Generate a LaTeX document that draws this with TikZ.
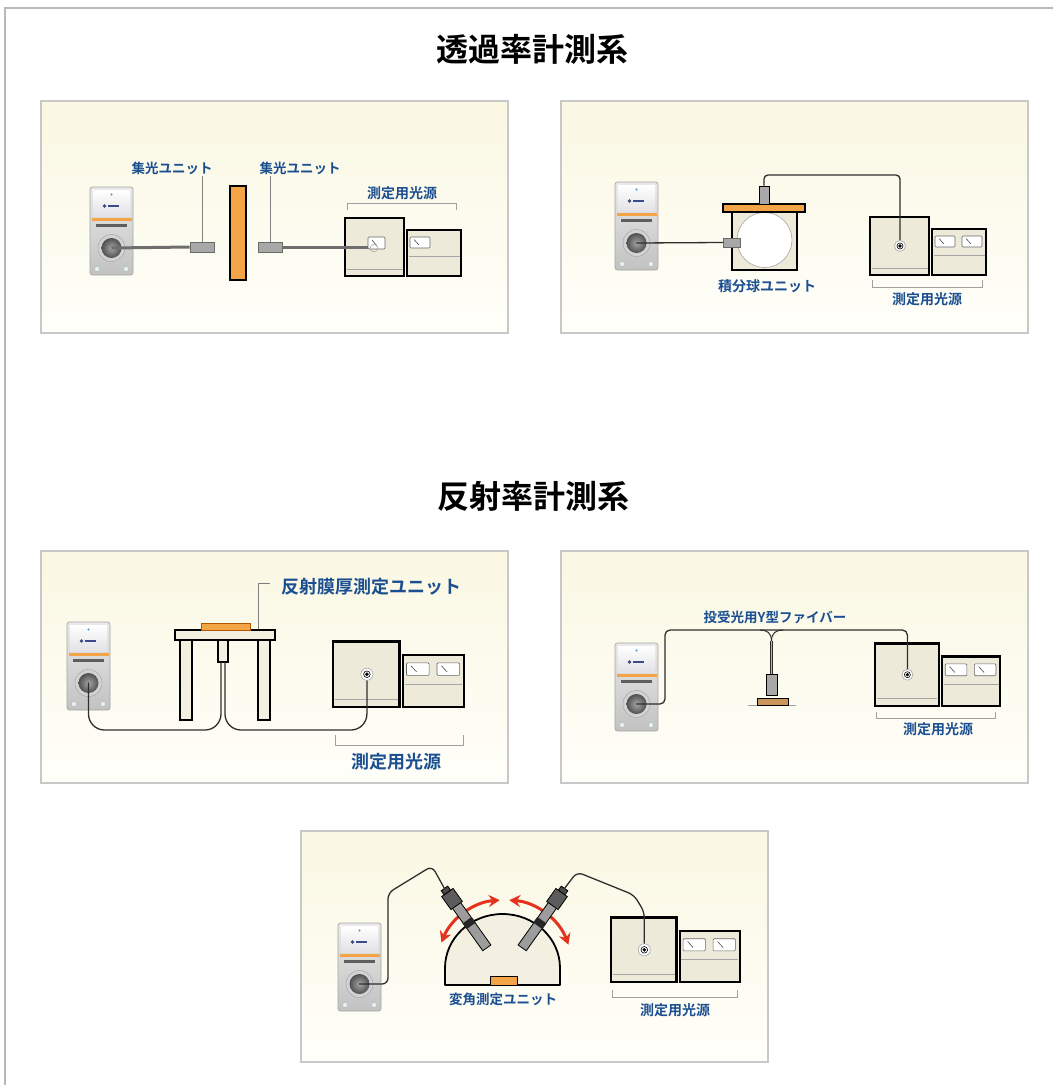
\documentclass[tikz,border=0pt]{standalone}
\usepackage{fontspec}
\usetikzlibrary{arrows.meta}
\newfontfamily\jp{Noto Sans CJK JP}[BoldFont={Noto Sans CJK JP Bold}]

\definecolor{panelTop}{HTML}{FAF7E2}
\definecolor{panelBot}{HTML}{FFFFFA}
\definecolor{panelEdge}{HTML}{C8C8C8}
\definecolor{frameGray}{HTML}{B8B8B8}
\definecolor{labBlue}{HTML}{1B4F91}
\definecolor{cream}{HTML}{EEEADA}
\definecolor{tableCream}{HTML}{F3F0E2}
\definecolor{plateOrange}{HTML}{F3A446}
\definecolor{sampleBrown}{HTML}{C9975A}
\definecolor{arcRed}{HTML}{E4321E}
\definecolor{fiberGray}{HTML}{6E6E6E}
\definecolor{fiberDark}{HTML}{2E2E2E}
\definecolor{unitGray}{HTML}{A8A8A8}
\definecolor{unitEdge}{HTML}{6A6A6A}
\definecolor{bracketGray}{HTML}{A0A0A0}
\definecolor{leaderGray}{HTML}{808080}
\definecolor{detTop}{HTML}{E9E9E9}
\definecolor{detBot}{HTML}{C2C2C2}
\definecolor{detEdge}{HTML}{A5A5A5}
\definecolor{detPanel}{HTML}{E2E2E6}
\definecolor{detDot}{HTML}{4A90D0}
\definecolor{navyMark}{HTML}{3A4A8A}
\definecolor{slotGray}{HTML}{5E5E5E}
\definecolor{ringGray}{HTML}{D2D2D2}
\definecolor{lensIn}{HTML}{A6A6A6}
\definecolor{lensOut}{HTML}{505050}
\definecolor{footFill}{HTML}{E2F2EE}
\definecolor{probeGray}{HTML}{9C9C9C}
\definecolor{headGray}{HTML}{5C5C5C}

\tikzset{
  panel/.style={draw=panelEdge, line width=1.4pt, top color=panelTop, bottom color=panelBot},
  lbl/.style={text=labBlue, inner sep=1pt, font=\jp\bfseries\fontsize{14}{16}\selectfont},
  lblsmall/.style={lbl, font=\jp\bfseries\fontsize{13.5}{15}\selectfont},
  lblbig/.style={lbl, font=\jp\bfseries\fontsize{18}{20}\selectfont},
  ttl/.style={text=black, inner sep=1pt, font=\jp\bfseries\fontsize{32}{34}\selectfont},
  collector/.style={draw=unitEdge, fill=unitGray, line width=0.8pt, inner sep=0pt,
    minimum width=24pt, minimum height=10pt},
  plate/.style={draw=black, fill=plateOrange, line width=1.3pt, inner sep=0pt},
  cbox/.style={draw=black, fill=cream, line width=2.4pt},
  tbl/.style={draw=black, fill=tableCream, line width=1.8pt, inner sep=0pt},
  greyunit/.style={draw=black, fill=unitGray, line width=1pt, inner sep=0pt},
  stripe/.style={draw=gray!70, line width=0.8pt},
  meterwin/.style={draw=gray!80!black, fill=white, line width=0.6pt, rounded corners=1pt},
  needle/.style={draw=gray!60!black, line width=0.6pt},
  fiber/.style={draw=fiberDark, line width=1.3pt, line cap=round},
  fiberthick/.style={draw=fiberGray, line width=3pt},
  fiberY/.style={draw=fiberDark, line width=0.8pt, double=gray!60, double distance=1.8pt},
  leader/.style={draw=leaderGray, line width=0.8pt},
  bracket/.style={draw=bracketGray, line width=1pt},
  redarc/.style={draw=arcRed, line width=3pt,
    arrows={Stealth[length=11pt,width=12pt]-Stealth[length=11pt,width=12pt]}},
  % spectrometer unit, origin at its top-left corner
  detector/.pic={
    \draw[draw=detEdge, line width=0.7pt, rounded corners=2.5pt, top color=detTop, bottom color=detBot]
      (0,0) rectangle (43,88);
    \fill[top color=white, bottom color=detPanel] (3,3) rectangle (40,29);
    \fill[detDot] (21.5,7.5) circle[radius=1.2];
    \fill[navyMark] (14.5,19) circle[radius=1.8];
    \fill[navyMark] (17.5,17.9) rectangle (29,20.3);
    \fill[plateOrange] (1.5,30.5) rectangle (41.5,33.5);
    \fill[slotGray] (6,36.5) rectangle (37,40);
    \draw[draw=gray!75, fill=ringGray] (21.5,61) circle[radius=13.5];
    \shade[inner color=lensIn, outer color=lensOut] (21.5,61) circle[radius=10];
    \draw[draw=gray!60, fill=footFill] (7,82) circle[radius=2.6] (36,82) circle[radius=2.6];
    \coordinate (-lens) at (21.5,61);
  },
  % light source with meter box, origin at bottom-left of the main box
  lightsrc/.pic={
    \draw[cbox] (0,-58) rectangle (59,0);
    \draw[stripe] (1.5,-7) -- (57.5,-7);
    \draw[cbox] (62,-46) rectangle (116,0);
    \draw[stripe] (63.5,-20) -- (114.5,-20);
    \draw[meterwin] (65,-39) rectangle (85,-28);
    \draw[needle] (69,-36.5) -- (74,-31);
    \ifnum#1>1
      \draw[meterwin] (92,-39) rectangle (112,-28);
      \draw[needle] (96,-36.5) -- (101,-31);
    \fi
    \coordinate (-port) at (30,-29);
  },
  fport/.pic={
    \draw[draw=gray!70, fill=white, line width=0.6pt] (0,0) circle[radius=5.5];
    \draw[black, line width=0.6pt, fill=white] (0,0) circle[radius=3];
    \fill[black] (0,0) circle[radius=1.8];
  },
  % angled probe, origin at the centre of its head, axis along +y
  angprobe/.pic={
    \draw[black, line width=0.8pt, fill=probeGray] (-5,6) rectangle (5,60);
    \fill[black!85] (-5.6,26) rectangle (5.6,33);
    \draw[black, line width=0.8pt, fill=headGray] (-7,-8) rectangle (7,8);
    \draw[black, line width=0.8pt, fill=headGray!80!black] (-4,-13) rectangle (4,-8);
    \coordinate (-top) at (0,-13);
  },
}

\begin{document}
\begin{tikzpicture}[x=1pt, y=-1pt]
\fill[white] (0,0) rectangle (1053,1085);
\useasboundingbox (0,0) rectangle (1053,1085);
\draw[frameGray, line width=2pt] (1053,8) -- (5,8) -- (5,1085);

% ---------- titles ----------
\node[ttl] (t1) at (532,49) {透過率計測系};
\node[ttl] (t2) at (533,496) {反射率計測系};

% ---------- panels ----------
\draw[panel] (41,101) rectangle (508,333);
\draw[panel] (561,101) rectangle (1028,333);
\draw[panel] (41,551) rectangle (508,783);
\draw[panel] (561,551) rectangle (1028,783);
\draw[panel] (301,831) rectangle (768,1062);

% ===== transmission: collimator pair =====
\pic (d1) at (90,187) {detector};
\pic (s1) at (345,276) {lightsrc=1};
\node[collector] (c1) at (202,247) {};
\node[collector] (c2) at (270,247) {};
\node[plate, minimum width=16pt, minimum height=94pt] (pl1) at (238,233) {};
\draw[fiberthick] (d1-lens) -- (c1.west);
\draw[fiberthick] (c2.east) -- (s1-port);
\begin{scope}[shift={(s1-port)}]
  \draw[meterwin] (-7,-10) rectangle (10,2);
  \draw[needle] (-3,-7) -- (2,-1);
  \draw[draw=gray!70, line width=0.6pt] (-1,1) circle[radius=3.8];
\end{scope}
\node[lblsmall] (lb1) at (172,168) {集光ユニット};
\node[lblsmall] (lb2) at (300,168) {集光ユニット};
\draw[leader] (c1.north) -- (c1.north |- lb1.south);
\draw[leader] (c2.north) -- (c2.north |- lb2.south);
\node[lbl] (lb3) at (402,193) {測定用光源};
\draw[bracket] (347,210) -- (347,203) -- (456,203) -- (456,210);

% ===== transmission: integrating sphere =====
\pic (d2) at (615,182) {detector};
\pic (s2) at (870,275) {lightsrc=2};
\node[cbox, line width=2pt, inner sep=0pt, minimum width=65pt, minimum height=60pt] (sb) at (764.5,240) {};
\draw[draw=gray!70, line width=0.6pt, fill=white] (sb.center) circle[radius=27.5];
\node[plate, minimum width=82pt, minimum height=8pt] (pl2) at (764,208) {};
\node[greyunit, minimum width=10pt, minimum height=18pt] (cy) at (764,195) {};
\node[collector, minimum width=17pt, minimum height=9pt] (c3) at (731.5,242.5) {};
\draw[fiber] (d2-lens) -- (c3.west);
\draw[fiber, rounded corners=4pt] (cy.north) -- (cy.north |- 0,175) -- (s2-port |- 0,175) -- (s2-port);
\pic at (s2-port) {fport};
\node[lbl] (lb4) at (767,286) {積分球ユニット};
\draw[bracket] (872,280) -- (872,287) -- (982,287) -- (982,280);
\node[lbl] (lb5) at (927,299) {測定用光源};

% ===== reflection: film thickness table =====
\pic (d3) at (67,622) {detector};
\pic[scale=1.13] (s3) at (333,707) {lightsrc=2};
\node[tbl, minimum width=12pt, minimum height=80pt] (lg1) at (186,680) {};
\node[tbl, minimum width=12pt, minimum height=80pt] (lg2) at (264,680) {};
\node[tbl, minimum width=100pt, minimum height=10pt] (tt) at (225,635) {};
\node[draw=orange!70!black, fill=plateOrange, line width=0.6pt, inner sep=0pt,
      minimum width=49pt, minimum height=7pt] (sp3) at (225.5,626.5) {};
\node[tbl, line width=1.2pt, minimum width=10pt, minimum height=22pt] (pr3) at (223,651) {};
\draw[fiber, rounded corners=16pt] ([xshift=-2pt]pr3.south) -- ([xshift=-2pt]pr3.south |- 0,730)
  -- (d3-lens |- 0,730) -- (d3-lens);
\draw[fiber, rounded corners=16pt] ([xshift=2pt]pr3.south) -- ([xshift=2pt]pr3.south |- 0,730)
  -- (s3-port |- 0,730) -- (s3-port);
\pic[scale=1.1] at (s3-port) {fport};
\node[lblbig, anchor=west] (lb6) at (280,587) {反射膜厚測定ユニット};
\draw[leader] (tt.north -| 258,0) -- (258,583) -- (270,583);
\draw[bracket] (335,735) -- (335,745) -- (463,745) -- (463,735);
\node[lblbig] (lb7) at (396,762) {測定用光源};

% ===== reflection: Y fibre =====
\pic (d4) at (615,643) {detector};
\pic[scale=1.08] (s4) at (875,706) {lightsrc=2};
\draw[bracket] (748,705.5) -- (796,705.5);
\node[draw=black, fill=sampleBrown, line width=1pt, inner sep=0pt,
      minimum width=31pt, minimum height=7pt] (sp4) at (772.5,701.5) {};
\node[greyunit, minimum width=11pt, minimum height=21pt] (pr4) at (771.5,684.5) {};
\draw[fiber, rounded corners=5pt] (d4-lens) -- (665,704) -- (665,630) -- (s4-port |- 0,630) -- (s4-port);
\coordinate (yj) at (771.5,641);
\draw[fiber, line width=1pt] (760,630) .. controls (767,630) and (771.5,633) .. (yj);
\draw[fiber, line width=1pt] (783,630) .. controls (776,630) and (771.5,633) .. (yj);
\draw[fiberY] (yj) -- (pr4.north);
\pic at (s4-port) {fport};
\node[lbl, font=\jp\bfseries\fontsize{13.5}{15}\selectfont] (lb8) at (775,617) {投受光用Y型ファイバー};
\draw[bracket] (876,712) -- (876,718) -- (995,718) -- (995,712);
\node[lbl] (lb9) at (938,729) {測定用光源};

% ===== reflection: variable angle =====
\pic (d5) at (338,923) {detector};
\pic[scale=1.11] (s5) at (611,982) {lightsrc=2};
\draw[draw=black, fill=tableCream, line width=1.8pt, line join=round]
  (445,985) -- (445,968) arc[start angle=180, end angle=360, x radius=57.5, y radius=54] -- (560,985) -- cycle;
\node[draw=black, fill=plateOrange, line width=0.8pt, inner sep=0pt,
      minimum width=27pt, minimum height=9pt] (sp5) at (503.5,980.5) {};
\draw[redarc] (504.5,968) ++(202:68) arc[start angle=202, end angle=266, radius=68];
\draw[redarc] (504.5,968) ++(274:68) arc[start angle=274, end angle=340, radius=68];
\pic[rotate=35.5] (pa) at (452,899) {angprobe};
\pic[rotate=-35.5] (pb) at (557,899) {angprobe};
\draw[fiber, rounded corners=6pt] (d5-lens) -- (388,984) -- (388,893) -- (432,866) -- (pa-top);
\draw[fiber, rounded corners=6pt] (pb-top) -- (577,872) -- (634,895) -- (s5-port |- 0,912) -- (s5-port);
\pic[scale=1.1] at (s5-port) {fport};
\node[lbl, font=\jp\bfseries\fontsize{13.5}{15}\selectfont] (lb10) at (503,999) {変角測定ユニット};
\draw[bracket] (612,990) -- (612,997) -- (737,997) -- (737,990);
\node[lbl] (lb11) at (675,1010) {測定用光源};
\end{tikzpicture}
\end{document}
